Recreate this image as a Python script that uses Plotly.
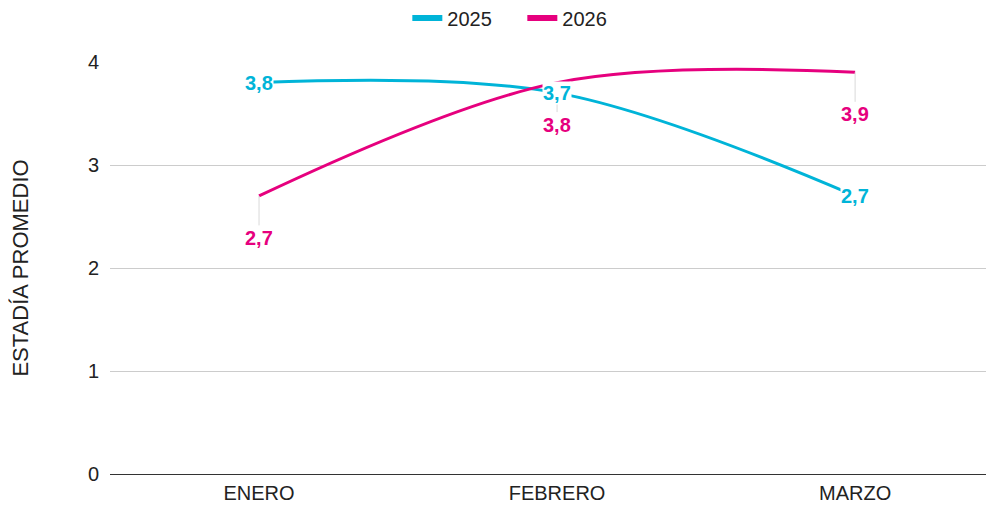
import plotly.graph_objects as go

categories = ["ENERO", "FEBRERO", "MARZO"]
series_2025 = [3.8, 3.7, 2.7]
series_2026 = [2.7, 3.8, 3.9]
y_ticks = [0, 1, 2, 3, 4]

C25 = "#00B4D8"
C26 = "#E6007E"
FONT = "Liberation Sans, Arial, sans-serif"
FS = 20

def fmt(v):
    return f"{v:.1f}".replace(".", ",")

fig = go.Figure()
fig.add_trace(go.Scatter(x=categories, y=series_2025, name="2025", mode="lines",
                         showlegend=False,
                         line=dict(color=C25, width=3, shape="spline", smoothing=1)))
fig.add_trace(go.Scatter(x=categories, y=series_2026, name="2026", mode="lines",
                         showlegend=False,
                         line=dict(color=C26, width=3, shape="spline", smoothing=1)))
# legend entries with thicker swatches
fig.add_trace(go.Scatter(x=[None], y=[None], name="2025", mode="lines",
                         line=dict(color=C25, width=6)))
fig.add_trace(go.Scatter(x=[None], y=[None], name="2026", mode="lines",
                         line=dict(color=C26, width=6)))

annotations = []
for c, v in zip(categories, series_2026):
    annotations.append(dict(x=c, y=v, xref="x", yref="y", text=fmt(v),
                            showarrow=True, ax=0, ay=42, arrowhead=0, arrowwidth=1,
                            arrowcolor="#d9d9d9", standoff=0,
                            font=dict(family=FONT, size=FS, color=C26, weight="bold")))
for c, v in zip(categories, series_2025):
    annotations.append(dict(x=c, y=v, xref="x", yref="y", text=fmt(v),
                            showarrow=False, bgcolor="white", borderpad=0,
                            font=dict(family=FONT, size=FS, color=C25, weight="bold")))

fig.update_layout(
    width=986, height=501,
    margin=dict(l=102, r=0, t=54, b=35),
    paper_bgcolor="white", plot_bgcolor="white",
    font=dict(family=FONT, size=FS, color="#222222"),
    showlegend=True,
    legend=dict(orientation="h", xref="container", yref="container",
                x=0.405, xanchor="left", y=0.98, yanchor="middle",
                entrywidth=70, entrywidthmode="pixels",
                font=dict(size=FS, color="#222222"), itemwidth=30),
    annotations=annotations,
    xaxis=dict(type="category", range=[-0.5, 2.466], showgrid=False,
               showline=False, ticks="", zeroline=False, ticklabelstandoff=5,
               tickfont=dict(size=FS, color="#222222")),
    yaxis=dict(range=[0, 4], tickvals=y_ticks, showgrid=True, gridcolor="#cccccc",
               gridwidth=1, zeroline=True, zerolinecolor="#333333", zerolinewidth=1,
               ticklabelstandoff=10, tickfont=dict(size=FS, color="#222222"),
               title=dict(text="ESTADÍA PROMEDIO", standoff=55,
                          font=dict(size=22, color="#222222"))),
)

fig.write_html("out.html")
